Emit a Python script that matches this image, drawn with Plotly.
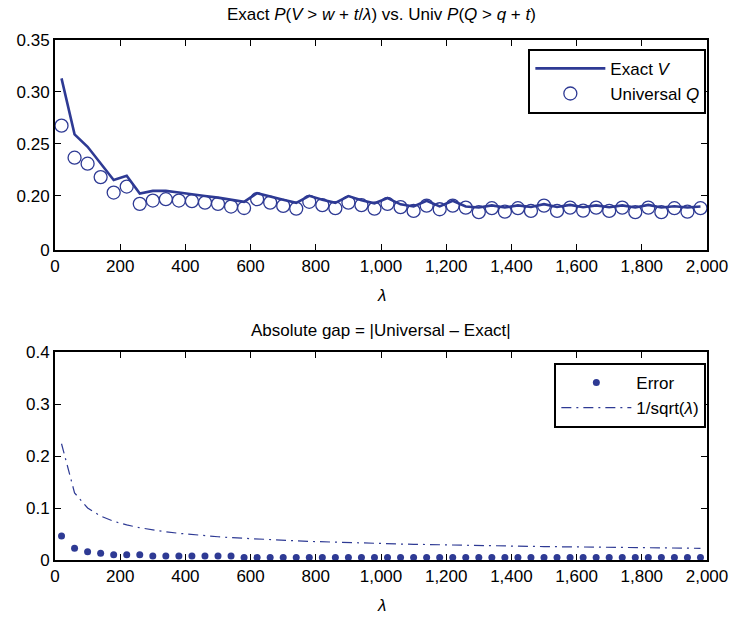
import plotly.graph_objects as go

lam = [20 + 40 * k for k in range(50)]

exact_v = [0.313, 0.259, 0.247, 0.231, 0.215, 0.219, 0.202, 0.2045, 0.2045, 0.203,
           0.201, 0.1995, 0.198, 0.196, 0.194, 0.2023, 0.1995, 0.196, 0.193, 0.1997,
           0.196, 0.193, 0.1995, 0.1955, 0.1925, 0.1975, 0.1915, 0.1895, 0.195, 0.1895,
           0.195, 0.1895, 0.1885, 0.1905, 0.1885, 0.1905, 0.189, 0.1917, 0.189, 0.191,
           0.1887, 0.1905, 0.1887, 0.1905, 0.1885, 0.191, 0.1885, 0.1897, 0.1885, 0.1894]

universal_q = [0.2674, 0.2365, 0.2307, 0.2178, 0.2029, 0.2087, 0.192, 0.1952, 0.1965, 0.1952,
               0.1946, 0.1932, 0.192, 0.1894, 0.188, 0.1965, 0.1932, 0.190, 0.1874, 0.194,
               0.1907, 0.1878, 0.1932, 0.1907, 0.1874, 0.192, 0.1888, 0.1852, 0.1903, 0.1868,
               0.1903, 0.1884, 0.184, 0.1878, 0.1845, 0.1878, 0.1852, 0.1903, 0.1852, 0.1884,
               0.1855, 0.1884, 0.1852, 0.1884, 0.184, 0.1884, 0.184, 0.1878, 0.1845, 0.1878]

error = [0.046, 0.0224, 0.016, 0.0128, 0.0103, 0.0103, 0.0103, 0.0077, 0.0077, 0.0077,
         0.0077, 0.0077, 0.0077, 0.0077, 0.005, 0.005, 0.005, 0.005, 0.005, 0.005,
         0.005, 0.005, 0.005, 0.005, 0.005, 0.005, 0.005, 0.005, 0.005, 0.005,
         0.005, 0.005, 0.005, 0.005, 0.005, 0.005, 0.005, 0.005, 0.005, 0.005,
         0.005, 0.005, 0.005, 0.005, 0.005, 0.005, 0.005, 0.005, 0.005, 0.005]

inv_sqrt = [0.2236, 0.1291, 0.1000, 0.0845, 0.0745, 0.0674, 0.0620, 0.0577, 0.0542, 0.0513,
            0.0488, 0.0466, 0.0447, 0.0430, 0.0415, 0.0402, 0.0389, 0.0378, 0.0368, 0.0358,
            0.0349, 0.0341, 0.0333, 0.0326, 0.0319, 0.0313, 0.0307, 0.0302, 0.0296, 0.0291,
            0.0286, 0.0282, 0.0277, 0.0273, 0.0269, 0.0265, 0.0262, 0.0258, 0.0255, 0.0252,
            0.0248, 0.0245, 0.0243, 0.0240, 0.0237, 0.0234, 0.0232, 0.0229, 0.0227, 0.0225]

top_ytick_vals = [0.1475, 0.20, 0.25, 0.30, 0.35]
top_ytick_text = ["0", "0.20", "0.25", "0.30", "0.35"]
bot_ytick_vals = [0, 0.1, 0.2, 0.3, 0.4]
bot_ytick_text = ["0", "0.1", "0.2", "0.3", "0.4"]
xtick_vals = list(range(0, 2001, 200))

BLUE = "#2e3a94"
FONT = "Liberation Sans, Arial, sans-serif"
FS = 17

fig = go.Figure()

fig.add_trace(go.Scatter(x=lam, y=exact_v, mode="lines", name="Exact <i>V</i>",
                         line=dict(color=BLUE, width=2.6), xaxis="x", yaxis="y",
                         legend="legend"))
fig.add_trace(go.Scatter(x=lam, y=universal_q, mode="markers", name="Universal <i>Q</i>",
                         marker=dict(symbol="circle-open", size=13, color=BLUE,
                                     line=dict(width=1.3, color=BLUE)),
                         xaxis="x", yaxis="y", legend="legend"))
fig.add_trace(go.Scatter(x=lam, y=error, mode="markers", name="Error",
                         marker=dict(symbol="circle", size=7, color=BLUE),
                         xaxis="x2", yaxis="y2", legend="legend2"))
fig.add_trace(go.Scatter(x=lam, y=inv_sqrt, mode="lines", name="1/sqrt(<i>λ</i>)",
                         line=dict(color=BLUE, width=1.2, dash="10px,5px,2px,5px"),
                         xaxis="x2", yaxis="y2", legend="legend2"))

axis_common = dict(showline=True, linecolor="black", linewidth=2, mirror="ticks",
                   ticks="inside", ticklen=6, tickwidth=1.2, tickcolor="black",
                   showgrid=False, zeroline=False,
                   tickfont=dict(family=FONT, size=FS, color="black"))

top_dom = [(560 - 250) / 520, 1.0]
bot_dom = [0.0, (560 - 352) / 520]

fig.update_layout(
    width=740, height=617,
    margin=dict(l=55, r=23, t=40, b=57),
    paper_bgcolor="white", plot_bgcolor="white",
    font=dict(family=FONT, size=FS, color="black"),
    xaxis=dict(domain=[0, 1], range=[0, 2000], tickvals=xtick_vals, tickformat=",d",
               anchor="y", **axis_common),
    yaxis=dict(domain=top_dom, range=[0.1475, 0.35], tickvals=top_ytick_vals,
               ticktext=top_ytick_text, anchor="x", **axis_common),
    xaxis2=dict(domain=[0, 1], range=[0, 2000], tickvals=xtick_vals, tickformat=",d",
                anchor="y2", **axis_common),
    yaxis2=dict(domain=bot_dom, range=[0, 0.4], tickvals=bot_ytick_vals,
                ticktext=bot_ytick_text, anchor="x2", **axis_common),
    legend=dict(x=0.999, y=0.983, xanchor="right", yanchor="top",
                bordercolor="black", borderwidth=2, bgcolor="white",
                itemwidth=70, font=dict(family=FONT, size=FS)),
    legend2=dict(x=0.999, y=0.379, xanchor="right", yanchor="top",
                 bordercolor="black", borderwidth=2, bgcolor="white",
                 itemwidth=70, font=dict(family=FONT, size=FS)),
    showlegend=True,
)

annos = [
    dict(text="Exact <i>P</i>(<i>V</i> > <i>w</i> + <i>t</i>/<i>λ</i>) vs. Univ <i>P</i>(<i>Q</i> > <i>q</i> + <i>t</i>)",
         x=0.5, y=(560 - 15) / 520),
    dict(text="Absolute gap = |Universal – Exact|", x=0.5, y=(560 - 330) / 520),
    dict(text="<i>λ</i>", x=0.5, y=(560 - 295) / 520),
    dict(text="<i>λ</i>", x=0.5, y=(560 - 605) / 520),
]
for a in annos:
    fig.add_annotation(xref="paper", yref="paper", showarrow=False,
                       xanchor="center", yanchor="middle",
                       font=dict(family=FONT, size=FS, color="black"), **a)

fig.write_html("out.html")
